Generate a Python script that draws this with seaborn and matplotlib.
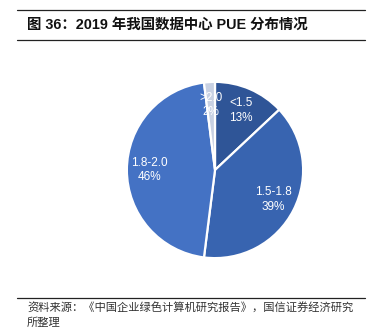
import matplotlib
matplotlib.use("Agg")
import matplotlib.pyplot as plt
import seaborn as sns

categories = ["<1.5", "1.5-1.8", "1.8-2.0", ">2.0"]
shares = [13, 39, 46, 2]
colors = ["#2F5597", "#3864B0", "#4472C4", "#C8D1E3"]

title = "图 36：2019 年我国数据中心 PUE 分布情况"
source_l1 = "资料来源：《中国企业绿色计算机研究报告》，国信证券经济研究"
source_l2 = "所整理"

sns.set_theme(style="white")
plt.rcParams["font.family"] = ["Liberation Sans", "Noto Sans CJK SC", "DejaVu Sans"]

W, H = 377, 334
fig = plt.figure(figsize=(W / 100, H / 100), dpi=100)
fig.patch.set_facecolor("white")

cx, cy, r = 215, 170, 89
ax = fig.add_axes([(cx - r) / W, (H - cy - r) / H, 2 * r / W, 2 * r / H])
labels = [f"{c}\n{v}%" for c, v in zip(categories, shares)]
wedges, texts = ax.pie(shares, labels=labels, colors=colors, startangle=90,
                       counterclock=False, labeldistance=0.74,
                       wedgeprops=dict(edgecolor="white", linewidth=1.6))
for t in texts:
    t.set_ha("center")
    t.set_va("center")
    t.set_color("white")
    t.set_fontsize(8.5)
    t.set_linespacing(1.3)
ax.set_xlim(-1.01, 1.01)
ax.set_ylim(-1.01, 1.01)
ax.set_aspect("equal")
ax.axis("off")

# title and rules
fig.add_artist(plt.Line2D([17 / W, 365 / W], [1 - 10 / H, 1 - 10 / H], color="#222222", lw=0.9))
fig.add_artist(plt.Line2D([17 / W, 365 / W], [1 - 40 / H, 1 - 40 / H], color="#222222", lw=0.9))
fig.text(27 / W, 1 - 25 / H, title, fontsize=10.4, fontweight="bold", va="center", ha="left", color="#111111")

fig.add_artist(plt.Line2D([17 / W, 365 / W], [1 - 298 / H, 1 - 298 / H], color="#222222", lw=0.9))
fig.text(27 / W, 1 - 308 / H, source_l1, fontsize=8.1, va="center", ha="left", color="#333333",
         family=["Noto Sans CJK SC", "DejaVu Sans"])
fig.text(27 / W, 1 - 323 / H, source_l2, fontsize=8.1, va="center", ha="left", color="#333333",
         family=["Noto Sans CJK SC", "DejaVu Sans"])

fig.savefig("out.png", dpi=100, facecolor="white")
